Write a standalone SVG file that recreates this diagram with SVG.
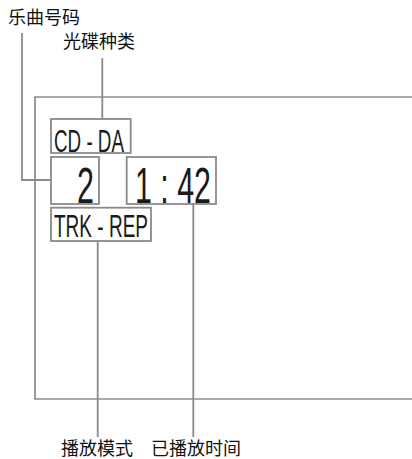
<svg xmlns="http://www.w3.org/2000/svg" width="412" height="459" viewBox="0 0 412 459">
<style>
.cjk{font-family:"Noto Sans CJK SC","Noto Sans",sans-serif;font-size:18px;fill:#111}
.lcd{font-family:"Liberation Sans",Arial,sans-serif;fill:#1a1a1a}
.box{fill:#fff;stroke:#8a8a8a;stroke-width:1.8}
.conn{fill:none;stroke:#8a8a8a;stroke-width:1.8}
.frame{fill:none;stroke:#555;stroke-width:1.2}
</style>
<rect width="412" height="459" fill="#fff"/>
<g id="frame"><path class="frame" d="M413,97 H35 V399 H413"/></g>
<g id="connectors">
<path class="conn" d="M22,33 V180 H51"/>
<path class="conn" d="M102.3,58 V119"/>
<path class="conn" d="M97.7,241 V437"/>
<path class="conn" d="M193.3,204 V437"/>
</g>
<g id="label-track"><text class="cjk" x="8" y="24">乐曲号码</text></g>
<g id="label-disc"><text class="cjk" x="63" y="48">光碟种类</text></g>
<g id="label-mode"><text class="cjk" x="61" y="455">播放模式</text></g>
<g id="label-time"><text class="cjk" x="151" y="455">已播放时间</text></g>
<g id="disc-type"><rect class="box" x="51" y="119" width="79.7" height="34"/><text class="lcd" x="54" y="151.5" font-size="30.5" textLength="70" lengthAdjust="spacingAndGlyphs">CD - DA</text></g>
<g id="track-number"><rect class="box" x="51" y="157" width="48" height="47"/><text class="lcd" x="77" y="203" font-size="50" textLength="17" lengthAdjust="spacingAndGlyphs">2</text></g>
<g id="elapsed-time"><rect class="box" x="126.7" y="157" width="89.3" height="47"/><text class="lcd" x="135" y="203" font-size="50" textLength="76" lengthAdjust="spacingAndGlyphs">1 : 42</text></g>
<g id="play-mode"><rect class="box" x="51" y="207.7" width="100" height="33.3"/><text class="lcd" x="54" y="236.5" font-size="30.5" textLength="94" lengthAdjust="spacingAndGlyphs">TRK - REP</text></g>
</svg>
